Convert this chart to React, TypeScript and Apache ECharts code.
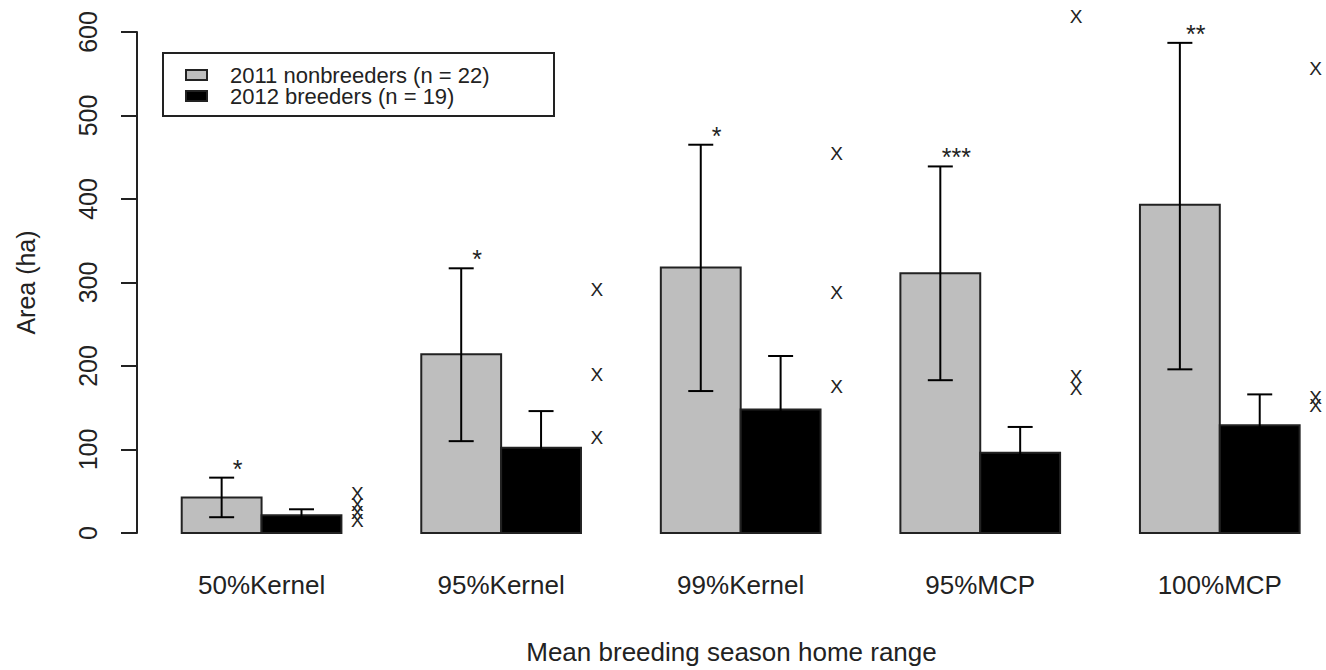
import React, { useEffect, useRef } from "react";
import * as echarts from "echarts";

const categories = ["50%Kernel", "95%Kernel", "99%Kernel", "95%MCP", "100%MCP"];
const seriesNames = ["2011 nonbreeders (n = 22)", "2012 breeders (n = 19)"];
const nonbreederMean = [42.6, 214, 318, 311, 393];
const nonbreederLow = [18.9, 110, 170, 183, 196];
const nonbreederHigh = [66.3, 317, 465, 439, 587];
const breederMean = [21.3, 102, 148, 96, 129];
const breederLow = [14, 58, 84, 65, 92];
const breederHigh = [28.4, 146, 212, 127, 166];
const significance = ["*", "*", "*", "***", "**"];
const individualPoints = [
  [47, 34, 25, 15],
  [292, 190, 114],
  [454, 288, 175],
  [618, 188, 173],
  [556, 162, 153],
];
const yTickLabels = ["0", "100", "200", "300", "400", "500", "600"];
const yAxisTitle = "Area (ha)";
const xAxisTitle = "Mean breeding season home range";

const FONT = "'Liberation Sans', Arial, Helvetica, sans-serif";
const GRAY = "#bebebe";
const BLACK = "#000000";
const EDGE = "#222222";

export default function App() {
  const ref = useRef<HTMLDivElement>(null);

  useEffect(() => {
    if (!ref.current) return;
    const chart = echarts.init(ref.current, undefined, { renderer: "svg" });

    const grayCenters = categories.map((_, g) => 1.5 + 3 * g);
    const blackCenters = categories.map((_, g) => 2.5 + 3 * g);
    const groupCenters = categories.map((_, g) => 2 + 3 * g);

    const barRender = (fill: string) => (params: any, api: any) => {
      const x = api.value(0);
      const v = api.value(1);
      const p0 = api.coord([x - 0.5, v]);
      const p1 = api.coord([x + 0.5, 0]);
      return {
        type: "rect",
        shape: { x: p0[0], y: p0[1], width: p1[0] - p0[0], height: p1[1] - p0[1] },
        style: { fill, stroke: EDGE, lineWidth: 2 },
      };
    };

    const errRender = (params: any, api: any) => {
      const x = api.value(0);
      const lo = api.coord([x, api.value(1)]);
      const hi = api.coord([x, api.value(2)]);
      const hw = 12.5;
      const st = { stroke: "#000", lineWidth: 2 };
      return {
        type: "group",
        children: [
          { type: "line", shape: { x1: lo[0], y1: lo[1], x2: hi[0], y2: hi[1] }, style: st },
          { type: "line", shape: { x1: lo[0] - hw, y1: lo[1], x2: lo[0] + hw, y2: lo[1] }, style: st },
          { type: "line", shape: { x1: hi[0] - hw, y1: hi[1], x2: hi[0] + hw, y2: hi[1] }, style: st },
        ],
      };
    };

    const errData = [
      ...grayCenters.map((x, i) => [x, nonbreederLow[i], nonbreederHigh[i]]),
      ...blackCenters.map((x, i) => [x, breederLow[i], breederHigh[i]]),
    ];

    const starData = grayCenters.map((x, i) => [x + 0.2, nonbreederHigh[i], i]);
    const pointData: number[][] = [];
    individualPoints.forEach((arr, g) => arr.forEach((v) => pointData.push([3.2 + 3 * g, v])));

    const option: any = {
      animation: false,
      backgroundColor: "#ffffff",
      textStyle: { fontFamily: FONT },
      grid: { left: 137, right: 0, top: 32, bottom: 131, containLabel: false },
      xAxis: {
        type: "value",
        min: 0.44,
        max: 15.33,
        axisLine: { show: false },
        axisTick: { show: false },
        splitLine: { show: false },
        axisLabel: {
          customValues: groupCenters,
          formatter: (v: number) => categories[Math.round((v - 2) / 3)] ?? "",
          fontSize: 26,
          color: "#222",
          fontFamily: FONT,
          margin: 39,
        },
        name: xAxisTitle,
        nameLocation: "middle",
        nameGap: 106,
        nameTextStyle: { fontSize: 26, color: "#222", fontFamily: FONT },
      },
      yAxis: {
        type: "value",
        min: 0,
        max: 600,
        interval: 100,
        axisLine: { show: true, lineStyle: { color: EDGE, width: 2 } },
        axisTick: { show: true, length: 16, lineStyle: { color: EDGE, width: 2 } },
        splitLine: { show: false },
        axisLabel: {
          rotate: 90,
          fontSize: 25,
          color: "#222",
          fontFamily: FONT,
          margin: 37,
          formatter: (v: number) => yTickLabels[Math.round(v / 100)] ?? String(v),
        },
        name: yAxisTitle,
        nameLocation: "middle",
        nameRotate: 90,
        nameGap: 99,
        nameTextStyle: { fontSize: 25, color: "#222", fontFamily: FONT },
      },
      graphic: [
        {
          type: "rect",
          left: 162,
          top: 52,
          shape: { width: 391, height: 63 },
          style: { fill: "#fff", stroke: EDGE, lineWidth: 2 },
          z: 10,
        },
        {
          type: "rect",
          left: 185,
          top: 69,
          shape: { width: 21, height: 10 },
          style: { fill: GRAY, stroke: EDGE, lineWidth: 2 },
          z: 11,
        },
        {
          type: "rect",
          left: 185,
          top: 90,
          shape: { width: 21, height: 10 },
          style: { fill: BLACK, stroke: EDGE, lineWidth: 2 },
          z: 11,
        },
        {
          type: "text",
          x: 230,
          y: 75,
          style: { text: seriesNames[0], fontSize: 22, fontFamily: FONT, fill: "#222", verticalAlign: "middle" },
          z: 11,
        },
        {
          type: "text",
          x: 230,
          y: 96,
          style: { text: seriesNames[1], fontSize: 22, fontFamily: FONT, fill: "#222", verticalAlign: "middle" },
          z: 11,
        },
      ],
      series: [
        {
          type: "custom",
          name: seriesNames[0],
          renderItem: barRender(GRAY),
          data: grayCenters.map((x, i) => [x, nonbreederMean[i]]),
          clip: false,
        },
        {
          type: "custom",
          name: seriesNames[1],
          renderItem: barRender(BLACK),
          data: blackCenters.map((x, i) => [x, breederMean[i]]),
          clip: false,
        },
        {
          type: "custom",
          name: "error",
          renderItem: errRender,
          data: errData,
          clip: false,
          z: 3,
        },
        {
          type: "custom",
          name: "significance",
          renderItem: (params: any, api: any) => {
            const p = api.coord([api.value(0), api.value(1)]);
            return {
              type: "text",
              x: p[0],
              y: p[1] - 9,
              style: {
                text: significance[api.value(2)],
                fontSize: 25,
                fontFamily: FONT,
                fill: "#222",
                align: "center",
                verticalAlign: "middle",
              },
            };
          },
          data: starData,
          clip: false,
          z: 4,
        },
        {
          type: "custom",
          name: "individuals",
          renderItem: (params: any, api: any) => {
            const p = api.coord([api.value(0), api.value(1)]);
            return {
              type: "text",
              x: p[0],
              y: p[1],
              style: {
                text: "X",
                fontSize: 19,
                fontFamily: FONT,
                fill: "#222",
                align: "center",
                verticalAlign: "middle",
              },
            };
          },
          data: pointData,
          clip: false,
          z: 4,
        },
      ],
    };

    chart.setOption(option);
    return () => chart.dispose();
  }, []);

  return (
    <div
      ref={ref}
      style={{ position: "absolute", left: 0, top: 0, width: 1326, height: 670, background: "#fff" }}
    />
  );
}
